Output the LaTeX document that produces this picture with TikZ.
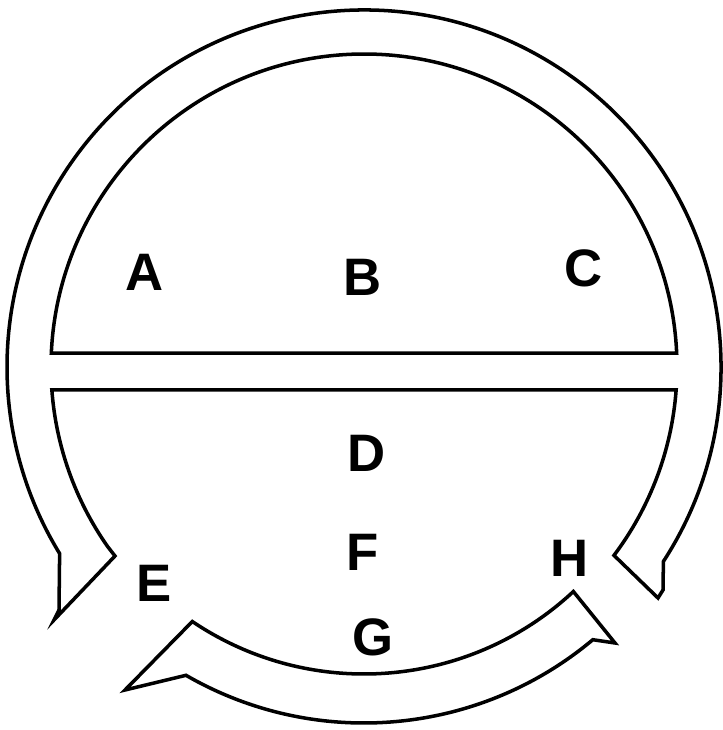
\documentclass[tikz,border=0pt]{standalone}
\usepackage{fontspec}
\setmainfont{Liberation Sans}
\usepackage{tikz}

\begin{document}
\begin{tikzpicture}[
  outline/.style={draw=black, line width=1pt, line join=miter},
  region/.style={font=\fontsize{15}{18}\selectfont\bfseries, inner sep=0pt}
]
  \useasboundingbox (0,0) rectangle (7.23,7.30);

  \begin{scope}[shift={(3.64,3.63)}]
    \coordinate (ringtipL) at (-3.10,-2.53);
    \coordinate (ringtipR) at (2.94,-2.31);
    \coordinate (bandtipL) at (-2.39,-3.23);
    \coordinate (bandtipR) at (2.51,-2.76);

    \draw[outline] (2.56:3.13) arc[start angle=2.56, end angle=177.44, radius=3.13] -- cycle;
    \draw[outline] (215:3.13) arc[start angle=215, end angle=184.21, radius=3.13]
      -- (-4.21:3.13) arc[start angle=-4.21, end angle=-37, radius=3.13]
      -- (ringtipR) -- (2.99,-2.23) -- (-33:3.57)
      arc[start angle=-33, end angle=211.5, radius=3.57]
      -- (-3.05,-2.43) -- (ringtipL) -- (-2.49,-1.89) -- cycle;
    \draw[outline] (236:3.07) arc[start angle=236, end angle=313, radius=3.07]
      -- (bandtipR) -- (310:3.56) arc[start angle=310, end angle=240, radius=3.56]
      -- (bandtipL) -- cycle;
  \end{scope}

  \node[region] (A) at (1.45,4.58) {A};
  \node[region] (B) at (3.63,4.53) {B};
  \node[region] (C) at (5.84,4.62) {C};
  \node[region] (D) at (3.67,2.77) {D};
  \node[region] (E) at (1.54,1.47) {E};
  \node[region] (F) at (3.63,1.78) {F};
  \node[region] (G) at (3.73,0.93) {G};
  \node[region] (H) at (5.70,1.72) {H};
\end{tikzpicture}
\end{document}
